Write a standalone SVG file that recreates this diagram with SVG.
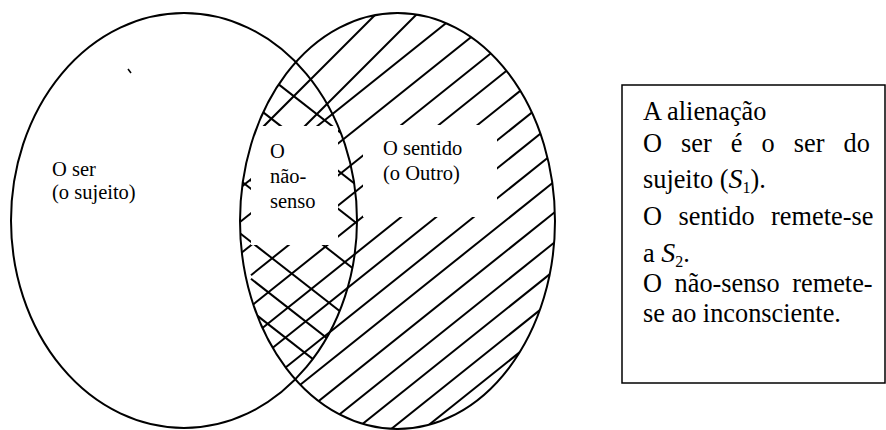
<svg xmlns="http://www.w3.org/2000/svg" width="886" height="430" viewBox="0 0 886 430">
<style>
  .outline { fill: none; stroke: #000; stroke-width: 2; }
  .hatch line { stroke: #000; stroke-width: 2; }
  .mask { fill: #fff; stroke: none; }
  .lbl { font-family: "Liberation Serif", "Times New Roman", serif; font-size: 20.5px; fill: #000; }
  .box { font-family: "Liberation Serif", "Times New Roman", serif; font-size: 26.3px; fill: #000; }
  .it { font-style: italic; font-size: 28px; }
  .sub { font-size: 16px; }
</style>
<defs>
  <clipPath id="cR"><ellipse cx="397.5" cy="221" rx="157.5" ry="208"/></clipPath>
  <clipPath id="cL"><ellipse cx="184" cy="220.5" rx="173" ry="207.5"/></clipPath>
</defs>
<rect width="886" height="430" fill="#fff"/>

<g id="hatching" class="hatch">
  <g clip-path="url(#cR)">
    <line x1="240" y1="150" x2="420" y2="-30"/>
    <line x1="250" y1="181" x2="460" y2="-29"/>
    <line x1="220" y1="204" x2="580" y2="-84"/>
    <line x1="220" y1="238" x2="580" y2="-50"/>
    <line x1="220" y1="270" x2="580" y2="-18"/>
    <line x1="251" y1="275.2" x2="580" y2="12"/>
    <line x1="220" y1="331" x2="580" y2="43"/>
    <line x1="220" y1="362" x2="580" y2="74"/>
    <line x1="220" y1="390" x2="580" y2="102"/>
    <line x1="220" y1="420" x2="580" y2="132"/>
    <line x1="220" y1="449" x2="580" y2="161"/>
    <line x1="220" y1="480" x2="580" y2="192"/>
    <line x1="220" y1="510" x2="580" y2="222"/>
    <line x1="220" y1="538" x2="580" y2="250"/>
    <line x1="220" y1="566" x2="580" y2="278"/>
    <line x1="220" y1="592" x2="580" y2="304"/>
  </g>
  <g clip-path="url(#cR)">
    <g clip-path="url(#cL)">
      <line x1="230" y1="46.4" x2="370" y2="155.6"/>
      <line x1="230" y1="86.4" x2="370" y2="195.6"/>
      <line x1="230" y1="124.4" x2="370" y2="233.6"/>
      <line x1="230" y1="172.4" x2="370" y2="281.6"/>
      <line x1="230" y1="225.4" x2="370" y2="334.6"/>
      <line x1="251" y1="278.8" x2="370" y2="371.6"/>
      <line x1="251" y1="310.8" x2="370" y2="403.6"/>
    </g>
  </g>
</g>

<rect class="mask" x="251" y="126" width="87" height="119"/>
<rect class="mask" x="363" y="125" width="134" height="92"/>

<g id="ser">
  <ellipse class="outline" cx="184" cy="220.5" rx="173" ry="207.5"/>
  <line x1="128" y1="69" x2="131" y2="73" stroke="#000" stroke-width="1.5"/>
  <text class="lbl" x="52" y="176">O ser</text>
  <text class="lbl" x="52" y="199">(o sujeito)</text>
</g>

<g id="sentido">
  <ellipse class="outline" cx="397.5" cy="221" rx="157.5" ry="208"/>
  <text class="lbl" x="383" y="155">O sentido</text>
  <text class="lbl" x="383" y="180">(o Outro)</text>
</g>

<g id="nao-senso">
  <text class="lbl" x="270" y="158">O</text>
  <text class="lbl" x="270" y="183">não-</text>
  <text class="lbl" x="270" y="208">senso</text>
</g>

<g id="legenda">
  <rect x="622" y="85" width="263" height="298" fill="#fff" stroke="#000" stroke-width="1.5"/>
  <text class="box" x="643" y="120">A alienação</text>
  <text class="box" x="643" y="152" word-spacing="12.5">O ser é o ser do</text>
  <text class="box" x="643" y="188">sujeito (<tspan class="it">S</tspan><tspan class="sub" dy="5">1</tspan><tspan dy="-5">).</tspan></text>
  <text class="box" x="643" y="225" word-spacing="10">O sentido remete-se</text>
  <text class="box" x="643" y="262">a <tspan class="it">S</tspan><tspan class="sub" dy="5">2</tspan><tspan dy="-5">.</tspan></text>
  <text class="box" x="643" y="292" word-spacing="6">O não-senso remete-</text>
  <text class="box" x="643" y="322">se ao inconsciente.</text>
</g>
</svg>
